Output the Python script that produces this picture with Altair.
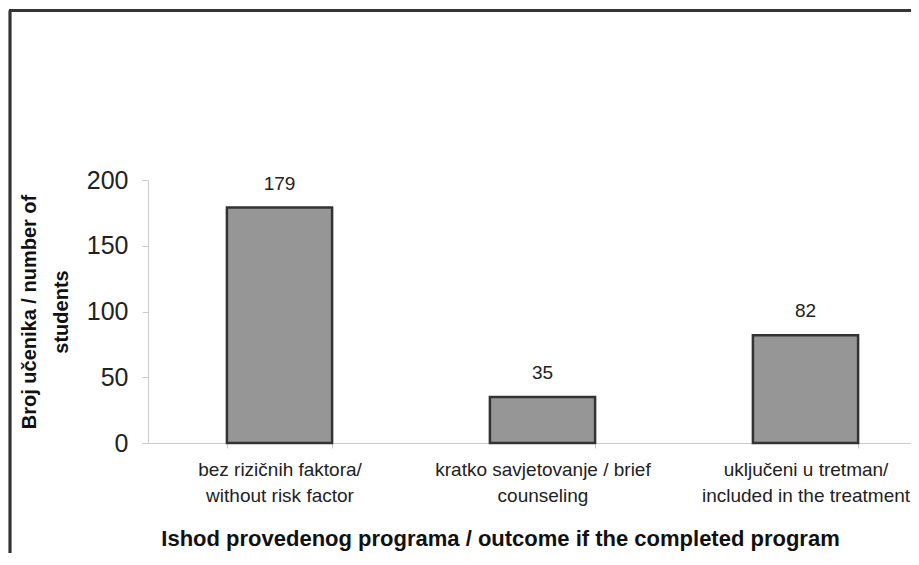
import altair as alt
import pandas as pd

# ---- data ----
categories = [
    "bez rizičnih faktora/\nwithout risk factor",
    "kratko savjetovanje / brief\ncounseling",
    "uključeni u tretman/\nincluded in the treatment",
]
counts = [179, 35, 82]
y_ticks = [0, 50, 100, 150, 200]
x_title = "Ishod provedenog programa / outcome if the completed program"
y_title = ["Broj učenika / number of", "students"]

df = pd.DataFrame({"category": categories, "count": counts})

FONT = "Liberation Sans"

x_enc = alt.X(
    "category:N",
    sort=categories,
    scale=alt.Scale(range=[0, 789], paddingInner=0.6, paddingOuter=0.3),
    axis=alt.Axis(
        title=x_title,
        labelAngle=0,
        labelExpr="split(datum.label, '\\n')",
        labelFontSize=19,
        labelLineHeight=26,
        labelColor="#222222",
        labelBaseline="top",
        labelPadding=12,
        labelLimit=0,
        labelOverlap=False,
        tickBand="extent",
        tickSize=5,
        tickColor="#cccccc",
        domainColor="#cccccc",
        titleFontSize=22,
        titleFontWeight="bold",
        titleColor="#111111",
        titleX=352,
        titleY=102,
        titleAlign="center",
        titleBaseline="alphabetic",
    ),
)

y_enc = alt.Y(
    "count:Q",
    scale=alt.Scale(domain=[0, 200]),
    axis=alt.Axis(
        values=y_ticks,
        title=y_title,
        grid=False,
        tickSize=6,
        tickColor="#cccccc",
        domainColor="#cccccc",
        labelFontSize=25,
        labelPadding=14,
        labelColor="#222222",
        titleFontSize=20,
        titleFontWeight="bold",
        titleColor="#111111",
        titleLineHeight=32,
        titleAngle=270,
        titleX=-129,
        titleY=131.5,
        titleAlign="center",
        titleBaseline="top",
    ),
)

base = alt.Chart(df)

bars = base.mark_bar(color="#969696", stroke="#333333", strokeWidth=2.5).encode(
    x=x_enc, y=y_enc
)

labels = base.mark_text(
    dy=-18, baseline="alphabetic", fontSize=19, color="#222222", font=FONT
).encode(x=alt.X("category:N", sort=categories), y="count:Q", text="count:Q")

frame_left = base.mark_rule(color="#333333", strokeWidth=2.5).encode(
    x=alt.value(-138), y=alt.value(-169.5), y2=alt.value(700)
)
frame_top = base.mark_rule(color="#333333", strokeWidth=2.5).encode(
    x=alt.value(-139), x2=alt.value(900), y=alt.value(-169.5)
)

chart = (
    alt.layer(bars, labels, frame_left, frame_top)
    .properties(
        width=763,
        height=263,
        autosize="none",
        padding={"left": 140, "top": 172, "right": 0, "bottom": 110},
    )
    .configure(font=FONT)
    .configure_view(stroke=None)
)

chart.save("out.html", embed_options={"renderer": "svg", "actions": False})
